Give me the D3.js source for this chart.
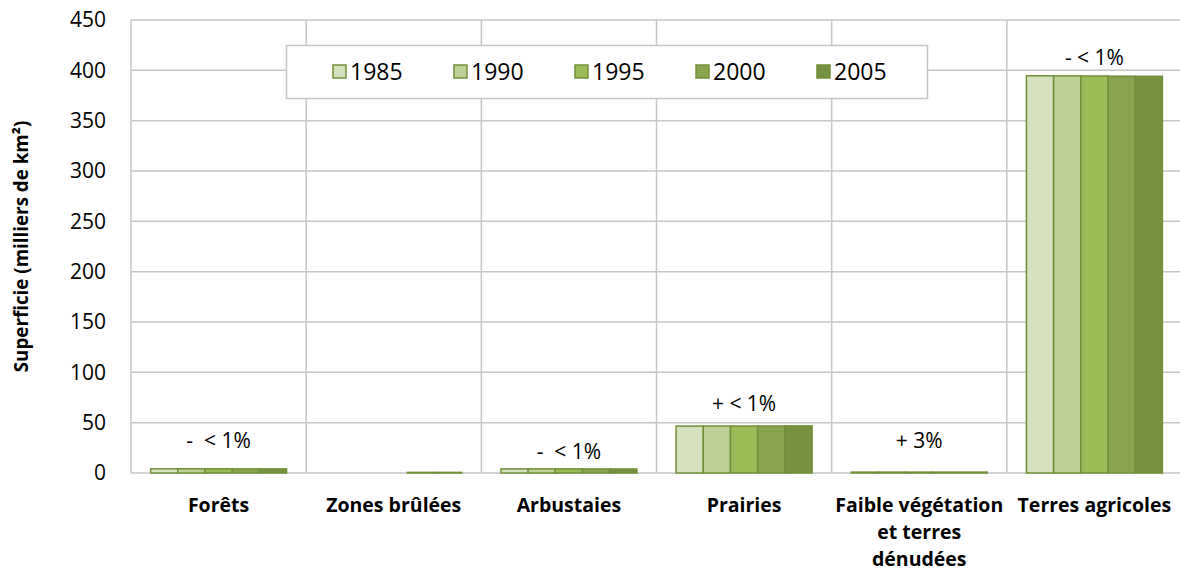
<!doctype html>
<html lang="fr">
<head>
<meta charset="utf-8">
<title>Superficie par classe d'occupation du sol</title>
<script src="https://cdnjs.cloudflare.com/ajax/libs/d3/7.8.5/d3.min.js"></script>
<style>
	body { margin: 0; background: #fff; }
	text { font-family: "Open Sans", "Noto Sans", sans-serif; fill: #000; }
	.change { white-space: pre; }
</style>
</head>
<body>
<div id="chart"></div>
<script>
/* data */
var categories = ['Forêts', 'Zones brûlées', 'Arbustaies', 'Prairies', 'Faible végétation et terres dénudées', 'Terres agricoles'];
var categoryLines = [['Forêts'], ['Zones brûlées'], ['Arbustaies'], ['Prairies'], ['Faible végétation', 'et terres', 'dénudées'], ['Terres agricoles']];
var years = ['1985', '1990', '1995', '2000', '2005'];
var v1985 = [4.2, 0, 4.1, 46.6, 0.9, 394.6];
var v1990 = [4.2, 0, 4.1, 46.7, 0.9, 394.5];
var v1995 = [4.2, 0, 4.1, 46.7, 0.9, 394.4];
var v2000 = [4.1, 0.6, 4.0, 46.7, 0.9, 394.2];
var v2005 = [4.1, 0.6, 4.0, 46.8, 0.9, 394.1];
var changeLabels = ['-  < 1%', '', '-  < 1%', '+ < 1%', '+ 3%', '- < 1%'];
var changeLabelAt = [32, null, 21, 69, 32, 413];   // in thousands of km²
var yTicks = [0, 50, 100, 150, 200, 250, 300, 350, 400, 450];

var series = [v1985, v1990, v1995, v2000, v2005];
var colors = ['#d5e1bf', '#bdd196', '#9bbb59', '#88a44e', '#76913f'];

/* view */
var W = 1180, H = 573;
var margin = { left: 131, top: 20, right: -2, bottom: 100 };

var svg = d3.select('#chart').append('svg')
	.attr('width', W)
	.attr('height', H);

var x = d3.scaleBand()
	.domain(categories)
	.range([margin.left, W - margin.right])
	.paddingInner(0)
	.paddingOuter(0);

var xs = d3.scaleBand()
	.domain(years)
	.range([0, x.bandwidth()])
	.paddingOuter(0.72)
	.paddingInner(0);

var y = d3.scaleLinear()
	.domain([0, 450])
	.range([H - margin.bottom, margin.top]);

// horizontal grid
svg.append('g')
	.selectAll('line')
	.data(yTicks)
	.enter().append('line')
	.attr('x1', margin.left)
	.attr('x2', W - margin.right)
	.attr('y1', function(d){ return y(d); })
	.attr('y2', function(d){ return y(d); })
	.style('stroke', '#c6c6c6')
	.style('stroke-width', 1.5);

// vertical separators
svg.append('g')
	.selectAll('line')
	.data(categories)
	.enter().append('line')
	.attr('x1', function(d){ return x(d); })
	.attr('x2', function(d){ return x(d); })
	.attr('y1', y(450))
	.attr('y2', y(0))
	.style('stroke', '#c6c6c6')
	.style('stroke-width', 1.5);

// y axis labels
var yAxis = d3.axisLeft(y).tickValues(yTicks).tickSize(0).tickPadding(0);
svg.append('g')
	.attr('transform', 'translate(106,0)')
	.call(yAxis)
	.call(function(g){ g.select('.domain').remove(); })
	.selectAll('text')
	.style('font-family', '"Open Sans", sans-serif')
	.style('font-size', '21px')
	.attr('fill', '#000');

svg.append('text')
	.attr('transform', 'translate(28,' + (margin.top + y(0)) / 2 + ') rotate(-90)')
	.attr('text-anchor', 'middle')
	.style('font-size', '18.8px')
	.style('font-weight', 'bold')
	.text('Superficie (milliers de km²)');

// bars
var groups = svg.append('g')
	.selectAll('g.cat')
	.data(categories)
	.enter().append('g')
	.attr('class', 'cat')
	.attr('transform', function(d){ return 'translate(' + x(d) + ',0)'; });

groups.selectAll('rect')
	.data(function(d, i){
		return years.map(function(yr, j){ return { year: yr, value: series[j][i], color: colors[j] }; });
	})
	.enter().append('rect')
	.filter(function(d){ return d.value > 0; })
	.attr('x', function(d){ return xs(d.year); })
	.attr('width', xs.bandwidth())
	.attr('y', function(d){ return y(d.value); })
	.attr('height', function(d){ return y(0) - y(d.value); })
	.style('fill', function(d){ return d.color; })
	.style('stroke', '#72903a')
	.style('stroke-width', 1.5);

// change labels
svg.append('g')
	.selectAll('text')
	.data(categories)
	.enter().append('text')
	.filter(function(d, i){ return changeLabels[i] !== ''; })
	.attr('class', 'change')
	.attr('x', function(d){ return x(d) + x.bandwidth() / 2; })
	.attr('y', function(d){ var i = categories.indexOf(d); return y(changeLabelAt[i]); })
	.attr('dy', '0.35em')
	.attr('text-anchor', 'middle')
	.style('font-size', '21px')
	.text(function(d){ return changeLabels[categories.indexOf(d)]; });

// category labels
var catText = svg.append('g')
	.selectAll('text')
	.data(categories)
	.enter().append('text')
	.attr('x', function(d){ return x(d) + x.bandwidth() / 2; })
	.attr('y', 512)
	.attr('text-anchor', 'middle')
	.style('font-size', '19.5px')
	.style('font-weight', 'bold');

catText.selectAll('tspan')
	.data(function(d){ return categoryLines[categories.indexOf(d)]; })
	.enter().append('tspan')
	.attr('x', function(){ var c = d3.select(this.parentNode).datum(); return x(c) + x.bandwidth() / 2; })
	.attr('dy', function(d, i){ return i === 0 ? 0 : 27; })
	.text(function(d){ return d; });

// legend
var legend = svg.append('g');
legend.append('rect')
	.attr('x', 286.5)
	.attr('y', 45.5)
	.attr('width', 641)
	.attr('height', 53)
	.style('fill', '#fff')
	.style('stroke', '#c6c6c6')
	.style('stroke-width', 1.5);

var item = legend.selectAll('g.item')
	.data(years)
	.enter().append('g')
	.attr('class', 'item')
	.attr('transform', function(d, i){ return 'translate(' + (333 + i * 121) + ',72)'; });

item.append('rect')
	.attr('x', 0)
	.attr('y', -7)
	.attr('width', 13)
	.attr('height', 13)
	.style('fill', function(d, i){ return colors[i]; })
	.style('stroke', '#72903a')
	.style('stroke-width', 1.5);

item.append('text')
	.attr('x', 17)
	.attr('y', 0)
	.attr('dy', '0.35em')
	.style('font-size', '23px')
	.text(function(d){ return d; });
</script>
</body>
</html>
